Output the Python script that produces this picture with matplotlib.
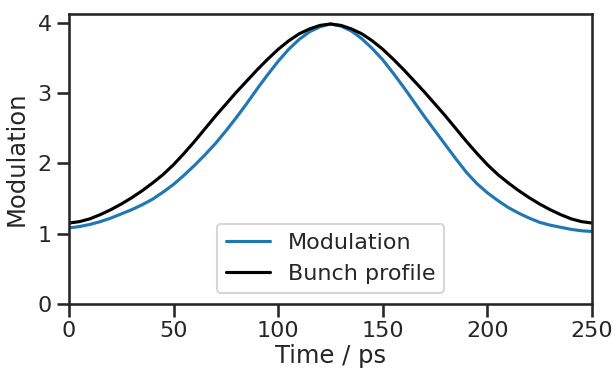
import matplotlib
matplotlib.use("Agg")
import matplotlib.pyplot as plt
import seaborn as sns

# values, every 5 ps
time_ps = list(range(0, 251, 5))
modulation = [1.08, 1.10, 1.13, 1.17, 1.22, 1.28, 1.34, 1.41, 1.49, 1.59,
              1.70, 1.83, 1.97, 2.12, 2.28, 2.46, 2.65, 2.85, 3.06, 3.26,
              3.45, 3.62, 3.76, 3.87, 3.94, 3.98, 3.95, 3.88, 3.77, 3.63,
              3.47, 3.28, 3.08, 2.87, 2.66, 2.46, 2.26, 2.06, 1.87, 1.71,
              1.58, 1.47, 1.37, 1.29, 1.22, 1.16, 1.12, 1.09, 1.06, 1.04,
              1.03]
bunch_profile = [1.15, 1.17, 1.21, 1.27, 1.34, 1.42, 1.51, 1.61, 1.72, 1.84,
                 1.98, 2.14, 2.31, 2.49, 2.67, 2.84, 3.01, 3.17, 3.33, 3.48,
                 3.62, 3.74, 3.84, 3.91, 3.96, 3.98, 3.96, 3.91, 3.84, 3.74,
                 3.62, 3.48, 3.33, 3.17, 3.01, 2.84, 2.67, 2.49, 2.31, 2.14,
                 1.98, 1.84, 1.72, 1.61, 1.51, 1.42, 1.34, 1.27, 1.21, 1.17,
                 1.15]

sns.set_theme(style="ticks", context="talk", font_scale=0.97)

fig = plt.figure(figsize=(6.16, 3.72), dpi=100)
ax = fig.add_axes([0.112, 0.183, 0.849, 0.779])

ax.plot(time_ps, modulation, color="tab:blue", label="Modulation")
ax.plot(time_ps, bunch_profile, color="black", label="Bunch profile")

ax.set_xlim(0, 250)
ax.set_ylim(0, 4.12)
ax.set_xticks([0, 50, 100, 150, 200, 250])
ax.set_yticks([0, 1, 2, 3, 4])
ax.set_xlabel("Time / ps", labelpad=2)
ax.set_ylabel("Modulation", labelpad=6)
ax.legend(loc="lower center")

fig.savefig("out.png", dpi=100)
